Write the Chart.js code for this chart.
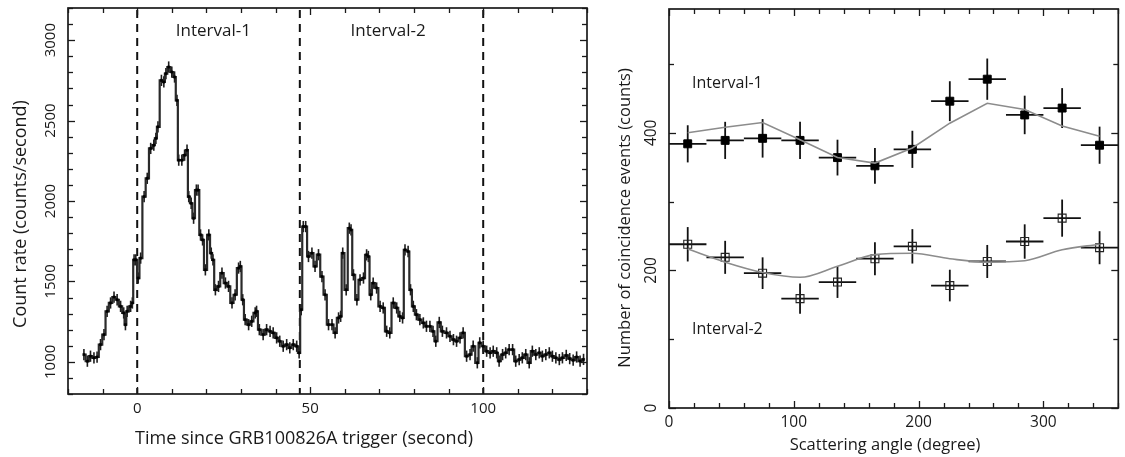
<!DOCTYPE html>
<html><head><meta charset="utf-8">
<script src="https://cdn.jsdelivr.net/npm/chart.js@4.4.1/dist/chart.umd.min.js"></script>
<style>
html,body{margin:0;padding:0;background:#fff;}
#wrap{position:relative;width:1125px;height:457px;overflow:hidden;}
#c1{position:absolute;left:0;top:0;}
#c2{position:absolute;left:600px;top:0;}
</style></head><body>
<div id="wrap"><canvas id="c1" width="600" height="457"></canvas><canvas id="c2" width="525" height="457"></canvas></div>
<script>
// ---------- Left panel: light curve ----------
const rateTime = [-15.4,-14.4,-13.5,-12.5,-11.6,-10.6,-9.6,-8.7,-7.7,-6.7,-5.8,-4.8,-3.9,-3.4,-2.9,-1.9,-1.4,-0.9,-0.4,0.3,1.0,2.0,2.9,3.9,4.8,5.4,6.0,7.0,7.7,8.3,9.1,10.0,10.8,11.5,12.0,12.9,13.7,14.4,14.9,15.6,16.3,17.1,17.6,18.3,18.9,19.7,20.7,21.4,21.9,22.6,23.5,24.5,25.5,26.4,27.4,28.3,29.3,29.8,30.5,31.2,32.2,33.1,34.1,34.5,35.3,36.4,37.4,38.4,39.3,40.3,41.2,42.2,43.2,44.1,45.1,46.1,46.8,47.4,48.0,48.7,49.5,50.5,51.4,52.4,53.4,54.3,55.3,56.3,57.2,58.2,58.8,59.4,60.4,61.3,61.8,62.5,63.5,64.4,65.4,66.3,66.8,67.5,68.2,69.2,70.2,71.1,72.1,73.0,74.0,75.0,75.9,76.7,77.4,78.3,79.0,79.8,80.7,81.7,82.7,83.6,84.6,85.5,86.3,87.3,88.2,89.4,90.4,91.4,92.3,93.3,94.2,95.2,96.2,97.1,98.3,99.0,100.0,101.0,102.0,102.9,103.9,104.6,105.6,106.5,107.5,108.5,109.4,110.4,111.3,112.3,113.3,114.2,115.2,116.2,117.1,118.1,119.1,120.0,121.0,122.0,122.9,124.0,125.0,126.0,127.0,128.0,129.0];
const rateValue = [1045,1004,1035,1025,1030,1107,1169,1314,1366,1403,1386,1345,1304,1231,1314,1345,1366,1634,1634,1521,1645,2027,2141,2327,2347,2390,2461,2750,2740,2792,2833,2802,2771,2626,2254,2254,2285,2316,2027,1986,1893,2068,2068,1789,1758,1572,1789,1676,1634,1448,1469,1552,1490,1469,1366,1417,1583,1593,1386,1262,1231,1252,1304,1314,1200,1169,1200,1190,1180,1149,1128,1097,1107,1087,1107,1097,1056,1324,1841,1841,1655,1676,1593,1666,1530,1417,1231,1231,1180,1273,1283,1676,1448,1831,1820,1541,1386,1510,1521,1665,1655,1417,1490,1459,1345,1335,1190,1180,1366,1335,1283,1273,1696,1686,1448,1345,1293,1262,1242,1221,1221,1190,1128,1245,1190,1180,1159,1138,1128,1149,1180,1035,1045,1097,994,1118,1097,1066,1056,1066,1056,1004,1045,1056,1076,1076,1004,1014,1025,1045,994,1066,1045,1056,1035,1045,1056,1035,1025,1014,1025,1040,1020,1010,1030,1005,1015];
const rateErr = 35;
const intervalBounds = [0, 47, 100];
const intervalNames = ['Interval-1', 'Interval-2'];
const leftXTickLabels = [0, 50, 100];
const leftYTickLabels = [1000, 1500, 2000, 2500, 3000];
const leftXTitle = 'Time since GRB100826A trigger (second)';
const leftYTitle = 'Count rate (counts/second)';

// ---------- Right panel: modulation curves ----------
const angleBins = [15,45,75,105,135,165,195,225,255,285,315,345];
const int1Counts = [384,389,392,389,364,352,376,446,478,426,436,382];
const int1Err    = [27,27,28,27,26,26,27,29,30,28,29,27];
const int2Counts = [238,219,196,159,183,217,235,178,213,242,276,233];
const int2Err    = [25,24,23,22,23,24,25,23,24,25,27,24];
const model1     = [400,408,415,390,364,356,378,414,443,434,410,395];
const model2     = [231,212,197,190,206,223,225,217,212,214,230,238];
const rightXTickLabels = [0, 100, 200, 300];
const rightYTickLabels = [0, 200, 400];
const rightXTitle = 'Scattering angle (degree)';
const rightYTitle = 'Number of coincidence events (counts)';

const FONT = '"Open Sans", "Noto Sans", "DejaVu Sans", sans-serif';
const INK = '#1a1a1a';

function seg(ctx, x1, y1, x2, y2) { ctx.beginPath(); ctx.moveTo(x1, y1); ctx.lineTo(x2, y2); ctx.stroke(); }

function frameTicks(chart, c) {
  const {ctx, chartArea: a, scales: {x, y}} = chart;
  ctx.save();
  ctx.strokeStyle = INK;
  ctx.lineWidth = 1.3;
  for (let v = c.xMin; v <= c.xMax + 1e-9; v += c.xStep) {
    const px = Math.round(x.getPixelForValue(v)) + 0.5;
    const len = Math.abs(v % c.xMajor) < 1e-9 ? c.majorLen : c.minorLen;
    seg(ctx, px, a.bottom, px, a.bottom - len);
    seg(ctx, px, a.top, px, a.top + len);
  }
  for (let v = c.yMin; v <= c.yMax + 1e-9; v += c.yStep) {
    const py = Math.round(y.getPixelForValue(v)) + 0.5;
    const len = Math.abs(v % c.yMajor) < 1e-9 ? c.majorLen : c.minorLen;
    seg(ctx, a.left, py, a.left + len, py);
    seg(ctx, a.right, py, a.right - len, py);
  }
  ctx.lineWidth = 1.7;
  ctx.strokeRect(a.left, a.top, a.right - a.left, a.bottom - a.top);
  // tick labels
  ctx.fillStyle = INK;
  ctx.font = c.tickFont;
  ctx.textAlign = 'center';
  ctx.textBaseline = 'middle';
  c.xLabels.forEach(v => ctx.fillText(String(v), x.getPixelForValue(v), a.bottom + c.xLabelOff));
  c.yLabels.forEach(v => {
    ctx.save();
    ctx.translate(a.left - c.yLabelOff, y.getPixelForValue(v));
    ctx.rotate(-Math.PI / 2);
    ctx.fillText(String(v), 0, 0);
    ctx.restore();
  });
  // titles
  ctx.font = c.xTitleFont;
  ctx.fillText(c.xTitle, c.xTitleX, c.xTitleY);
  ctx.save();
  ctx.font = c.yTitleFont;
  ctx.translate(c.yTitleX, c.yTitleY);
  ctx.rotate(-Math.PI / 2);
  ctx.fillText(c.yTitle, 0, 0);
  ctx.restore();
  ctx.restore();
}

// ----- left chart -----
const leftDeco = {
  id: 'leftDeco',
  beforeDatasetsDraw(chart) {
    const {ctx, chartArea: a, scales: {x, y}} = chart;
    ctx.save();
    ctx.strokeStyle = '#111';
    ctx.lineWidth = 2;
    ctx.setLineDash([8, 6]);
    intervalBounds.forEach(t => {
      const px = x.getPixelForValue(t);
      seg(ctx, px, a.top + 2, px, a.bottom);
    });
    ctx.setLineDash([]);
    // error bars
    ctx.strokeStyle = '#1e1e1e';
    ctx.lineWidth = 1.6;
    rateTime.forEach((t, i) => {
      const px = x.getPixelForValue(t);
      seg(ctx, px, y.getPixelForValue(rateValue[i] - rateErr), px, y.getPixelForValue(rateValue[i] + rateErr));
    });
    ctx.restore();
  },
  afterDraw(chart) {
    const {ctx, scales: {x}} = chart;
    frameTicks(chart, {
      xMin: -20, xMax: 130, xStep: 10, xMajor: 50,
      yMin: 800, yMax: 3200, yStep: 100, yMajor: 500,
      majorLen: 7, minorLen: 5,
      xLabels: leftXTickLabels, yLabels: leftYTickLabels,
      tickFont: '15px ' + FONT, xLabelOff: 15, yLabelOff: 17,
      xTitle: leftXTitle, xTitleFont: '18px ' + FONT, xTitleX: 304, xTitleY: 439,
      yTitle: leftYTitle, yTitleFont: '18px ' + FONT, yTitleX: 21, yTitleY: 214
    });
    ctx.save();
    ctx.fillStyle = INK;
    ctx.font = '17px ' + FONT;
    ctx.textAlign = 'center';
    ctx.textBaseline = 'middle';
    const labelT = [22, 72.5];
    intervalNames.forEach((n, i) => ctx.fillText(n, x.getPixelForValue(labelT[i]), 31));
    ctx.restore();
  }
};

new Chart(document.getElementById('c1'), {
  type: 'line',
  data: {
    datasets: [{
      data: rateTime.map((t, i) => ({x: t, y: rateValue[i]})),
      stepped: 'middle',
      borderColor: '#2a2a2a',
      borderWidth: 2.2,
      pointRadius: 1.6,
      pointStyle: 'rect',
      pointBackgroundColor: '#000',
      pointBorderColor: '#000',
      pointBorderWidth: 0.5,
      fill: false
    }]
  },
  options: {
    responsive: false,
    animation: false,
    devicePixelRatio: 1,
    layout: {padding: {left: 68, top: 8, right: 13, bottom: 63}},
    scales: {
      x: {type: 'linear', min: -20, max: 130, display: false},
      y: {type: 'linear', min: 800, max: 3200, display: false}
    },
    plugins: {legend: {display: false}, tooltip: {enabled: false}}
  },
  plugins: [leftDeco]
});

// ----- right chart -----
const rightDeco = {
  id: 'rightDeco',
  beforeDatasetsDraw(chart) {
    const {ctx, scales: {x, y}} = chart;
    ctx.save();
    ctx.strokeStyle = '#111';
    ctx.lineWidth = 1.8;
    [[int1Counts, int1Err], [int2Counts, int2Err]].forEach(([vals, errs]) => {
      angleBins.forEach((a, i) => {
        const px = x.getPixelForValue(a), py = y.getPixelForValue(vals[i]);
        seg(ctx, x.getPixelForValue(a - 15), py, x.getPixelForValue(a + 15), py);
        seg(ctx, px, y.getPixelForValue(vals[i] - errs[i]), px, y.getPixelForValue(vals[i] + errs[i]));
      });
    });
    ctx.restore();
  },
  afterDraw(chart) {
    const {ctx} = chart;
    frameTicks(chart, {
      xMin: 0, xMax: 360, xStep: 20, xMajor: 100,
      yMin: 0, yMax: 580, yStep: 100, yMajor: 200,
      majorLen: 7, minorLen: 5,
      xLabels: rightXTickLabels, yLabels: rightYTickLabels,
      tickFont: '15.5px ' + FONT, xLabelOff: 15, yLabelOff: 17,
      xTitle: rightXTitle, xTitleFont: '16.5px ' + FONT, xTitleX: 285, xTitleY: 445,
      yTitle: rightYTitle, yTitleFont: '16.5px ' + FONT, yTitleX: 25, yTitleY: 218
    });
    ctx.save();
    ctx.fillStyle = INK;
    ctx.font = '16px ' + FONT;
    ctx.textAlign = 'left';
    ctx.textBaseline = 'middle';
    ctx.fillText(intervalNames[0], 92, 83);
    ctx.fillText(intervalNames[1], 92, 329);
    ctx.restore();
  }
};

const pts = vals => angleBins.map((a, i) => ({x: a, y: vals[i]}));
new Chart(document.getElementById('c2'), {
  type: 'line',
  data: {
    datasets: [
      {data: pts(model1), borderColor: '#8c8c8c', borderWidth: 1.6, pointRadius: 0, fill: false},
      {data: pts(model2), borderColor: '#8c8c8c', borderWidth: 1.6, pointRadius: 0, fill: false, cubicInterpolationMode: 'monotone'},
      {data: pts(int1Counts), showLine: false, pointStyle: 'rect', pointRadius: 5.6, pointBackgroundColor: '#000', pointBorderColor: '#000', pointBorderWidth: 1},
      {data: pts(int2Counts), showLine: false, pointStyle: 'rect', pointRadius: 5.6, pointBackgroundColor: 'rgba(0,0,0,0)', pointBorderColor: '#222', pointBorderWidth: 1.1}
    ]
  },
  options: {
    responsive: false,
    animation: false,
    devicePixelRatio: 1,
    layout: {padding: {left: 69, top: 9, right: 4, bottom: 49}},
    scales: {
      x: {type: 'linear', min: 0, max: 360, display: false},
      y: {type: 'linear', min: 0, max: 580, display: false}
    },
    plugins: {legend: {display: false}, tooltip: {enabled: false}}
  },
  plugins: [rightDeco]
});
</script>
</body></html>
